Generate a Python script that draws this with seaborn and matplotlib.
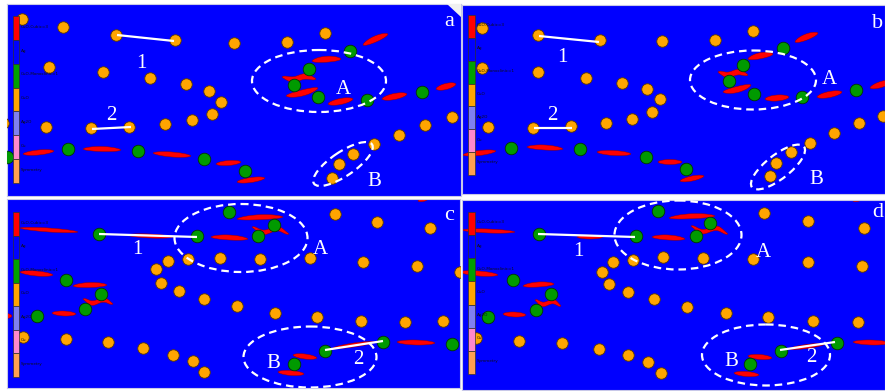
import numpy as np
import pandas as pd
import matplotlib
matplotlib.use("Agg")
import matplotlib.pyplot as plt
import seaborn as sns
from matplotlib.patches import Ellipse, Polygon, Rectangle

sns.set_style("white")
plt.rcParams["font.family"] = ["Liberation Serif", "DejaVu Serif"]

W, H = 885, 391

# panel extents in pixel coordinates: (left, top, right, bottom)
PANEL_BOX = {
    "a": (7, 4, 461, 196),
    "b": (462, 5, 885, 194),
    "c": (7, 199, 460, 388),
    "d": (462, 200, 885, 390),
}

# ---- particle positions (pixel coordinates) ----
ORANGE_A = [(22, 19), (63, 27), (116, 35), (175, 40), (234, 43), (287, 42), (325, 33),
            (49, 67), (103, 72), (150, 78), (186, 84), (209, 91), (221, 102), (212, 114),
            (192, 120), (165, 124), (129, 127), (91, 128), (46, 127), (3, 123),
            (374, 144), (353, 154), (339, 164), (332, 178), (399, 135), (425, 125), (452, 117)]
GREEN_A = [(350, 51), (309, 69), (294, 85), (318, 97), (367, 100), (422, 92),
           (68, 149), (138, 151), (204, 159), (245, 171), (7, 157)]

ORANGE_B = [(482, 28), (538, 35), (600, 40), (662, 41), (715, 40), (753, 31),
            (482, 68), (538, 72), (586, 78), (622, 83), (647, 89), (660, 99), (652, 112),
            (632, 119), (606, 123), (571, 126), (533, 128), (488, 127),
            (810, 143), (791, 152), (776, 163), (770, 176), (834, 133), (859, 123), (883, 116)]
GREEN_B = [(783, 48), (743, 65), (729, 81), (754, 94), (802, 97), (856, 90),
           (511, 148), (580, 149), (646, 157), (686, 169)]

ORANGE_C = [(335, 214), (377, 222), (430, 228), (168, 261), (188, 259), (220, 258),
            (260, 259), (310, 258), (363, 262), (417, 266), (156, 269), (161, 283),
            (179, 291), (204, 299), (237, 306), (275, 313), (317, 317), (361, 321),
            (405, 322), (443, 321), (23, 337), (66, 339), (108, 342), (143, 348),
            (173, 355), (193, 361), (204, 372), (460, 272)]
GREEN_C = [(229, 212), (274, 225), (258, 236), (197, 236), (99, 234), (66, 280),
           (101, 294), (85, 309), (37, 316), (325, 351), (294, 364), (383, 342), (452, 344)]

ORANGE_D = [(764, 213), (808, 221), (864, 228), (613, 262), (633, 260), (663, 257),
            (703, 258), (753, 259), (808, 262), (862, 266), (602, 272), (609, 284),
            (628, 292), (654, 299), (687, 307), (726, 313), (768, 317), (813, 321),
            (858, 322), (476, 338), (519, 341), (562, 343), (599, 349), (628, 355),
            (648, 362), (661, 373)]
GREEN_D = [(658, 211), (710, 223), (696, 236), (636, 236), (539, 234), (513, 280),
           (551, 294), (536, 310), (488, 317), (781, 351), (750, 364), (837, 343)]

# ---- lens-shaped grains: x0, y0, x1, y1, thickness, bend, wave ----
LENS_A = [(363, 45, 388, 34, 6, 0.5, 0), (312, 61, 341, 59, 6, 0.8, 0),
          (282, 77, 316, 79, 6, 0, 1.5), (286, 96, 318, 88, 6, -1.0, 0),
          (328, 104, 353, 99, 6, 0, 0), (382, 99, 407, 94, 6, 0, 0),
          (436, 89, 456, 84, 6, 0, 0), (23, 154, 54, 151, 5, 0, 0),
          (83, 149, 121, 150, 5, 0.5, 0), (153, 153, 191, 156, 5, 0, 0),
          (216, 164, 241, 162, 5, 0, 0), (237, 182, 265, 178, 5, 0, 0)]
LENS_B = [(795, 42, 818, 33, 6, 0.5, 0), (748, 59, 773, 54, 6, 0.8, 0),
          (718, 72, 748, 75, 6, 0, 1.5), (723, 92, 751, 85, 6, -1.0, 0),
          (765, 99, 789, 97, 6, 0, 0), (817, 97, 842, 92, 6, 0, 0),
          (870, 88, 892, 81, 6, 0, 0), (463, 155, 496, 151, 5, 0, 0),
          (527, 147, 563, 149, 5, 0.5, 0), (597, 152, 631, 154, 5, 0, 0),
          (658, 162, 682, 162, 5, 0, 0), (680, 181, 704, 176, 5, 0, 0)]
LENS_C = [(20, 228, 78, 232, 4, 0, 0), (127, 235, 173, 237, 4, 0, 0),
          (237, 219, 283, 217, 5, 0.8, 0), (252, 227, 289, 234, 5, 0, 2.5),
          (211, 237, 248, 239, 5, 0.5, 0), (20, 272, 53, 275, 5, 0, 0),
          (73, 286, 107, 285, 5, 0.5, 0), (83, 299, 113, 304, 5, 0, 2.0),
          (52, 313, 76, 314, 5, 0, 0), (0, 316, 12, 316, 5, 0, 0),
          (293, 355, 317, 358, 5, 0, 0), (278, 372, 304, 374, 5, 0, 0),
          (333, 348, 375, 342, 4, 0, 0), (397, 342, 435, 343, 5, 0, 0),
          (418, 201, 428, 199, 3, 0, 0)]
LENS_D = [(462, 230, 515, 232, 4, 0, 0), (577, 237, 603, 237, 4, 0, 0),
          (669, 218, 715, 216, 5, 0.8, 0), (691, 226, 728, 234, 5, 0, 2.5),
          (652, 237, 685, 239, 5, 0.5, 0), (460, 272, 498, 275, 5, 0, 0),
          (523, 286, 554, 284, 5, 0.5, 0), (535, 300, 561, 306, 5, 0, 2.0),
          (503, 314, 526, 315, 5, 0, 0), (748, 356, 772, 358, 5, 0, 0),
          (734, 373, 759, 375, 5, 0, 0), (788, 349, 825, 344, 4, 0, 0),
          (853, 342, 890, 343, 5, 0, 0), (853, 201, 862, 199, 3, 0, 0)]

# ---- distance markers between particles ----
LINKS_A = [(117, 35, 174, 41), (92, 129, 131, 127)]
LINKS_B = [(539, 36, 599, 42), (534, 128, 572, 128)]
LINKS_C = [(99, 234, 197, 237), (325, 350, 383, 341)]
LINKS_D = [(538, 234, 635, 237), (780, 350, 835, 342)]

# ---- dashed regions: cx, cy, width, height, tilt (deg, rising to the right) ----
REGIONS_A = [(319, 81, 134, 62, 0), (343, 164, 70, 24, 34)]
REGIONS_B = [(753, 80, 126, 59, 0), (778, 167, 66, 24, 38)]
REGIONS_C = [(241, 238, 133, 68, 0), (310, 357, 133, 61, 0)]
REGIONS_D = [(678, 235, 127, 69, 0), (766, 355, 128, 61, 0)]

# ---- annotations ----
TEXT_A = [("1", 141, 63), ("2", 111, 115), ("A", 343, 90), ("B", 374, 182)]
TEXT_B = [("1", 562, 57), ("2", 552, 115), ("A", 829, 79), ("B", 816, 179)]
TEXT_C = [("1", 137, 250), ("2", 358, 360), ("A", 320, 250), ("B", 273, 363)]
TEXT_D = [("1", 578, 252), ("2", 811, 358), ("A", 763, 253), ("B", 731, 362)]
PANEL_TAG = {"a": (449, 21), "b": (878, 23), "c": (449, 216), "d": (878, 213)}

# ---- colour key ----
KEY_NAMES = ["CuO-Cubic=3", "Ag", "CuO-Monoclinic=1", "CuO", "Ag2O", "Cu", "Symmetry"]
KEY_COLORS = ["#ff0000", "#0000ff", "#00a000", "#ffa500", "#8080f0", "#ff88cc", "#ffa050"]
KEY_BOX = {"a": (13, 16, 19, 183), "b": (468, 15, 475, 175),
           "c": (13, 212, 19, 377), "d": (468, 212, 475, 374)}

PANELS = {
    "a": (ORANGE_A, GREEN_A, LENS_A, LINKS_A, REGIONS_A, TEXT_A),
    "b": (ORANGE_B, GREEN_B, LENS_B, LINKS_B, REGIONS_B, TEXT_B),
    "c": (ORANGE_C, GREEN_C, LENS_C, LINKS_C, REGIONS_C, TEXT_C),
    "d": (ORANGE_D, GREEN_D, LENS_D, LINKS_D, REGIONS_D, TEXT_D),
}

BG = "#0000ff"


def lens_outline(x0, y0, x1, y1, thick, bend, wave, n=48):
    p0 = np.array([x0, y0], float)
    p1 = np.array([x1, y1], float)
    L = np.linalg.norm(p1 - p0)
    u = (p1 - p0) / L
    nrm = np.array([u[1], -u[0]])  # points upward on screen
    t = np.linspace(-1, 1, n)
    mid = (p0 + p1) / 2
    spine = mid + np.outer(t * L / 2, u)
    offset = bend * (1 - t ** 2) + wave * np.sin(np.pi * t) * (1 - t ** 2) * 1.6
    half = thick / 2 * (1 - t ** 2) ** 0.6
    upper = spine + np.outer(offset + half, nrm)
    lower = spine + np.outer(offset - half, nrm)
    return np.vstack([upper, lower[::-1]])


fig = plt.figure(figsize=(W / 100, H / 100), dpi=100)
fig.patch.set_facecolor("white")

for key, (orange, green, lenses, links, regions, texts) in PANELS.items():
    x0, y0, x1, y1 = PANEL_BOX[key]
    ax = fig.add_axes([x0 / W, 1 - y1 / H, (x1 - x0) / W, (y1 - y0) / H])
    ax.set_facecolor(BG)
    ax.set_xticks([])
    ax.set_yticks([])
    for sp in ax.spines.values():
        sp.set_color("#c8c8e8")
        sp.set_linewidth(0.8)

    for seg in lenses:
        ax.add_patch(Polygon(lens_outline(*seg), closed=True, facecolor="#ff0000",
                             edgecolor="#8a0000", linewidth=0.3, zorder=2))

    dfo = pd.DataFrame(orange, columns=["x", "y"])
    dfg = pd.DataFrame(green, columns=["x", "y"])
    sns.scatterplot(data=dfo, x="x", y="y", ax=ax, s=68, color="#ffa500",
                    edgecolor="#5a3800", linewidth=0.6, legend=False, zorder=3)
    sns.scatterplot(data=dfg, x="x", y="y", ax=ax, s=82, color="#009a00",
                    edgecolor="#003300", linewidth=0.6, legend=False, zorder=3)

    for lx0, ly0, lx1, ly1 in links:
        ax.plot([lx0, lx1], [ly0, ly1], color="white", lw=1.6, zorder=4,
                solid_capstyle="butt")

    for cx, cy, ew, eh, tilt in regions:
        ax.add_patch(Ellipse((cx, cy), ew, eh, angle=-tilt, fill=False,
                             edgecolor="white", linewidth=1.6,
                             linestyle=(0, (3.4, 2.2)), zorder=5))

    for s, tx, ty in texts:
        ax.text(tx, ty, s, color="white", fontsize=15, ha="center", va="center",
                zorder=6)
    px, py = PANEL_TAG[key]
    ax.text(px, py, key, color="white", fontsize=16, ha="center", va="center", zorder=6)

    # colour key bar
    kx0, ky0, kx1, ky1 = KEY_BOX[key]
    step = (ky1 - ky0) / len(KEY_COLORS)
    for i, (nm, col) in enumerate(zip(KEY_NAMES, KEY_COLORS)):
        ax.add_patch(Rectangle((kx0, ky0 + i * step), kx1 - kx0, step,
                               facecolor=col, edgecolor="#303030", linewidth=0.5,
                               zorder=7))
        ax.text(kx1 + 2, ky0 + (i + 0.45) * step, nm, fontsize=3.0,
                family=["DejaVu Sans"], color="#101010", ha="left", va="center",
                zorder=7)

    ax.set_xlim(x0, x1)
    ax.set_ylim(y1, y0)
    ax.set_xlabel("")
    ax.set_ylabel("")

# corner fold mark on the first panel
axa = fig.axes[0]
axa.add_patch(Polygon([(447, 4), (461, 4), (461, 17)], closed=True,
                      facecolor="#f0f0f0", edgecolor="none", zorder=8))

fig.savefig("out.png", dpi=100, facecolor="white")
